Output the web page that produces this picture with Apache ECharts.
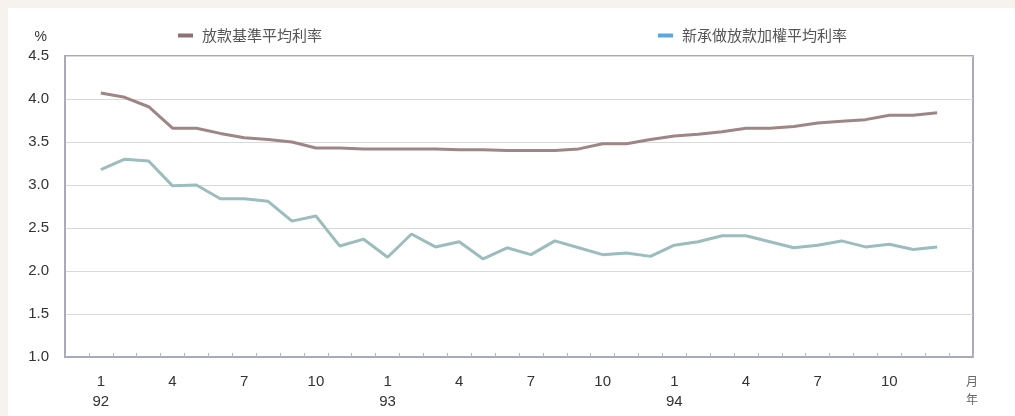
<!DOCTYPE html>
<html>
<head>
<meta charset="utf-8">
<script src="https://cdn.jsdelivr.net/npm/echarts@6/dist/echarts.min.js"></script>
<style>
  html, body { margin: 0; padding: 0; background: #f6f3ee; }
  #wrap { position: absolute; left: 8px; top: 8px; right: 0; bottom: 0; background: #ffffff; }
  #chart { position: absolute; left: -8px; top: -8px; width: 1015px; height: 416px; }
</style>
</head>
<body>
<div id="wrap"><div id="chart"></div></div>
<script>
// ROC years and months along the x axis
const years = ['92', '93', '94'];
const months = [1, 2, 3, 4, 5, 6, 7, 8, 9, 10, 11, 12];

// 放款基準平均利率 (%), Jan 92 – Dec 94
const baseRate = [
  4.07, 4.02, 3.91, 3.66, 3.66, 3.60, 3.55, 3.53, 3.50, 3.43, 3.43, 3.42,
  3.42, 3.42, 3.42, 3.41, 3.41, 3.40, 3.40, 3.40, 3.42, 3.48, 3.48, 3.53,
  3.57, 3.59, 3.62, 3.66, 3.66, 3.68, 3.72, 3.74, 3.76, 3.81, 3.81, 3.84
];

// 新承做放款加權平均利率 (%), Jan 92 – Dec 94
const newLoanRate = [
  3.18, 3.30, 3.28, 2.99, 3.00, 2.84, 2.84, 2.81, 2.58, 2.64, 2.29, 2.37,
  2.16, 2.43, 2.28, 2.34, 2.14, 2.27, 2.19, 2.35, 2.27, 2.19, 2.21, 2.17,
  2.30, 2.34, 2.41, 2.41, 2.34, 2.27, 2.30, 2.35, 2.28, 2.31, 2.25, 2.28
];

// y axis ticks
const yTicks = [1.0, 1.5, 2.0, 2.5, 3.0, 3.5, 4.0, 4.5];

const seriesNames = ['放款基準平均利率', '新承做放款加權平均利率'];

// categories: one empty slot at each end of the time axis
const cats = ['padL'];
years.forEach(y => months.forEach(m => cats.push(y + '-' + m)));
cats.push('padR');

const pad = arr => ['-', ...arr, '-'];

const chart = echarts.init(document.getElementById('chart'), null, { renderer: 'canvas' });

const legendText = { color: '#555', fontSize: 15, fontFamily: 'Noto Sans CJK TC', padding: [0, 0, 0, 4] };

chart.setOption({
  backgroundColor: 'transparent',
  animation: false,
  textStyle: { fontFamily: 'Liberation Sans, Arial, sans-serif' },
  grid: {
    left: 65, right: 42, top: 56, bottom: 59,
    show: true, borderColor: '#a9a9bd', borderWidth: 2, backgroundColor: '#fff'
  },
  legend: [
    {
      left: 173, top: 23, icon: 'rect', itemWidth: 15, itemHeight: 4,
      data: [{ name: seriesNames[0], itemStyle: { color: '#8c7272' } }],
      textStyle: legendText
    },
    {
      left: 653, top: 23, icon: 'rect', itemWidth: 15, itemHeight: 4,
      data: [{ name: seriesNames[1], itemStyle: { color: '#5fa6da' } }],
      textStyle: legendText
    }
  ],
  xAxis: {
    type: 'category',
    data: cats,
    boundaryGap: true,
    axisLine: { lineStyle: { color: '#a9a9bd', width: 2 } },
    axisTick: { show: true, inside: true, length: 4, interval: 0, lineStyle: { color: '#b5b5c5' } },
    axisLabel: {
      interval: 0,
      color: '#333', fontSize: 15, lineHeight: 20, margin: 15,
      formatter: v => {
        if (v.startsWith('pad')) return '';
        const [y, m] = v.split('-');
        const mm = Number(m);
        if ((mm - 1) % 3 !== 0) return '';
        return mm === 1 ? mm + '\n' + y : String(mm);
      }
    },
    splitLine: { show: false }
  },
  yAxis: {
    type: 'value',
    min: yTicks[0], max: yTicks[yTicks.length - 1], interval: 0.5,
    name: '%',
    nameLocation: 'end',
    nameGap: 12,
    nameTextStyle: { color: '#333', fontSize: 14, align: 'right', padding: [0, 18, 0, 0] },
    axisLine: { show: true, lineStyle: { color: '#a9a9bd', width: 2 } },
    axisTick: { show: false },
    axisLabel: { color: '#333', fontSize: 15, margin: 16, formatter: v => v.toFixed(1) },
    splitLine: { lineStyle: { color: '#dadada', width: 1 } }
  },
  graphic: [
    { type: 'text', left: 966, top: 375, style: { text: '月', fill: '#666', fontSize: 12, fontFamily: 'Noto Sans CJK TC' } },
    { type: 'text', left: 966, top: 393, style: { text: '年', fill: '#666', fontSize: 12, fontFamily: 'Noto Sans CJK TC' } }
  ],
  series: [
    {
      name: seriesNames[0], type: 'line', data: pad(baseRate),
      showSymbol: false, symbol: 'none',
      lineStyle: { color: '#9e8686', width: 3 }, itemStyle: { color: '#9e8686' }
    },
    {
      name: seriesNames[1], type: 'line', data: pad(newLoanRate),
      showSymbol: false, symbol: 'none',
      lineStyle: { color: '#9cbdbd', width: 3 }, itemStyle: { color: '#9cbdbd' }
    }
  ]
});
</script>
</body>
</html>
